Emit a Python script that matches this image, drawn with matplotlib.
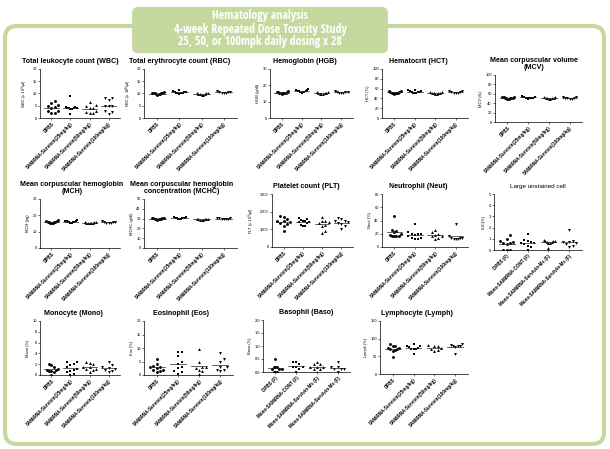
import numpy as np
import matplotlib
matplotlib.use("Agg")
import matplotlib.pyplot as plt
from matplotlib.patches import FancyBboxPatch
from matplotlib import font_manager

plt.rcParams['font.family'] = ['Liberation Sans', 'DejaVu Sans']

# group names
groups = ["DPBS", "SAMiRNA-Survivin(25mg/kg)", "SAMiRNA-Survivin(50mg/kg)",
          "SAMiRNA-Survivin(100mg/kg)"]
groups_f = ["DPBS (F)", "Mono-SAMiRNA-CONT (F)", "Mono-SAMiRNA-Survivin-Ms (F)",
            "Mono-SAMiRNA-Survivin-Ms (F)"]

# values (one list per group)
wbc = [[7, 6, 5.5, 5, 4.5, 4, 3, 3, 2, 2],
       [9, 4.5, 4.5, 4, 4, 4, 3.5, 3.5, 1.5, 4],
       [6.5, 5.5, 5, 4, 4, 3, 2.5, 2, 2],
       [8, 7.5, 8, 5, 5, 3, 2.5, 1.5, 5]]
rbc = [[9.5, 9.8, 10, 10.2, 10.5, 9.7, 10, 10.3, 9.6, 10.1],
       [10, 10.3, 10.5, 10.8, 11, 11.5, 10.2, 10.6, 9.8, 10.4],
       [9.5, 9.8, 10, 10.2, 9.6, 9.9, 10.1, 9.4],
       [10, 10.3, 10.6, 11, 10.5, 10.2, 10.8]]
hgb = [[14.5, 15, 15.5, 16, 16.3, 15.2, 15.8, 15.4, 16.1, 15],
       [15.5, 16, 16.5, 17, 17.8, 16.2, 15.8, 16.7, 16.4, 17.2],
       [14.5, 15, 15.3, 15.8, 14.8, 15.2, 16, 14.6],
       [15, 15.5, 16, 16.5, 15.8, 15.3, 16.2]]
hct = [[49, 50, 52, 54, 55, 51, 53, 52, 56, 50],
       [50, 52, 54, 56, 58, 53, 55, 51, 57, 54],
       [48, 50, 52, 54, 51, 49, 53, 50],
       [51, 53, 55, 52, 54, 56, 52]]
mcv = [[50, 51, 52, 53, 54, 52, 51, 53, 52, 50],
       [50, 51, 52, 53, 54, 52, 51, 53, 52, 55, 51],
       [50, 51, 52, 53, 52, 51, 54, 50],
       [49, 51, 52, 53, 50, 52, 54]]
mch = [[15, 15.5, 16, 16.5, 17, 15.8, 16.2, 15.6, 16.4, 15.9],
       [15.2, 15.8, 16.2, 16.6, 17, 16, 15.6, 16.4, 16.8, 15.9],
       [15, 15.4, 15.8, 16, 15.6, 15.2, 16.2, 15.5],
       [15, 15.5, 16, 16.5, 15.8, 15.3, 16.2]]
mchc = [[29, 29.5, 30, 30.5, 31, 30.2, 29.8, 30.6, 29.6, 30.1],
        [29.5, 30, 30.5, 31, 31.5, 30.2, 30.8, 29.8, 30.6, 31.2],
        [28.5, 29, 29.5, 30, 29.2, 29.8, 28.8, 29.4],
        [29.5, 30, 30.5, 30.2, 29.8, 30.4, 30.1]]
plt_count = [[1700, 1750, 1600, 1500, 1450, 1400, 1300, 1350, 1200, 900],
             [1650, 1600, 1550, 1500, 1450, 1400, 1350, 1250, 1200, 1200, 1400],
             [1700, 1500, 1450, 1400, 1250, 1200, 900, 800, 1350],
             [1650, 1600, 1500, 1400, 1350, 1300, 1200, 1000, 1450]]
neut = [[47, 25, 24, 22, 20, 18, 17, 16, 16, 17],
        [35, 22, 20, 19, 18, 16, 14, 13, 12, 12, 20],
        [25, 22, 20, 18, 16, 14, 12, 17],
        [35, 16, 14, 13, 12, 12, 12, 14]]
luc = [[1.3, 1.0, 0.8, 0.7, 0.6, 0.6, 0.5, 0, 0, 0],
       [1.4, 0.9, 0.8, 0.7, 0.6, 0.5, 0.4, 0.3, 0.0, 0.6],
       [0.9, 0.8, 0.8, 0.7, 0.7, 0.6, 0.6, 0.2, 0.8],
       [1.8, 0.8, 0.7, 0.6, 0.5, 0.4, 0.3, 0.7]]
mono = [[2.0, 1.8, 1.5, 1.2, 1.0, 1.0, 0.8, 0.7, 0.5, 0.0],
        [2.5, 2.4, 2.0, 1.8, 1.5, 1.2, 1.0, 0.8, 0.5, 0.0, 0.2],
        [2.5, 2.3, 2.0, 1.5, 1.4, 1.2, 1.0, 0.5, 1.2],
        [2.5, 1.8, 1.5, 1.3, 1.2, 1.0, 0.8, 0.5]]
eos = [[6, 4, 3.5, 3, 3, 2.5, 2, 2, 1.5, 1],
       [8.5, 8.5, 7, 5, 3, 2.5, 1.5, 1, 0.5, 4],
       [9.5, 5, 3, 2.5, 2, 1.5, 0.5, 3],
       [8, 6, 5, 3, 3, 2, 1.5, 2]]
baso = [[0.5, 0.2, 0.2, 0.1, 0.1, 0, 0, 0, 0.2, 0.1],
        [0.4, 0.4, 0.3, 0.2, 0.2, 0.1, 0, 0.2],
        [0.4, 0.3, 0.3, 0.2, 0.2, 0.1, 0.1, 0.0, 0.2],
        [0.4, 0.2, 0.2, 0.1, 0.1, 0, 0.1]]
lymph = [[85, 80, 78, 75, 72, 70, 68, 65, 48, 75],
         [85, 80, 78, 75, 72, 70, 70, 58, 76],
         [82, 80, 78, 75, 72, 68, 65],
         [85, 82, 80, 78, 78, 76, 58]]

W, H = 610, 449
fig = plt.figure(figsize=(W / 100, H / 100), dpi=100)

# pick a narrow font for the header if one is installed
names = {f.name for f in font_manager.fontManager.ttflist}
head_font = 'Liberation Sans'
for cand in ['Liberation Sans Narrow', 'DejaVu Sans Condensed', 'Open Sans Condensed',
             'Roboto Condensed']:
    if cand in names:
        head_font = cand
        break

# background frame and header box, drawn in pixel coordinates
bg = fig.add_axes([0, 0, 1, 1])
bg.set_xlim(0, W)
bg.set_ylim(H, 0)
bg.axis('off')
green = '#c5d99f'
bg.add_patch(FancyBboxPatch((5, 26), 599, 418, boxstyle="round,pad=0,rounding_size=12",
                            fc='white', ec=green, lw=3))
bg.add_patch(FancyBboxPatch((132, 7), 256, 46, boxstyle="round,pad=0,rounding_size=6",
                            fc=green, ec='none'))
head_size = 8.6 if head_font != 'Liberation Sans' else 7.4
for yy, line in zip([16, 29, 42], ["Hematology analysis", "4-week Repeated Dose Toxicity Study",
                                   "25, 50, or 100mpk daily dosing x 28"]):
    bg.text(260, yy, line, ha='center', va='center', color='white', fontsize=head_size,
            fontweight='bold', family=head_font)


def swarm(vals, ymax, ax_h, step, cap):
    # simple beeswarm: pixel offsets so markers don't overlap, squeezed into +-cap
    order = np.argsort(vals)
    placed = []
    offs = np.zeros(len(vals))
    for i in order:
        y = vals[i] / ymax * ax_h
        k = 0
        while True:
            cand = 0 if k == 0 else ((k + 1) // 2) * step * (1 if k % 2 else -1)
            if all((cand - px) ** 2 + (y - py) ** 2 >= step ** 2 for px, py in placed):
                break
            k += 1
        placed.append((cand, y))
        offs[i] = cand
    m = np.abs(offs).max()
    if m > cap:
        offs = offs * cap / m
    return offs


markers = ['o', 's', '^', 'v']


def panel(rect, data, title, ylabel, ymax, yticks, cats, title_x=0.42, bold=True):
    l, t, r, b = rect
    ax = fig.add_axes([l / W, 1 - b / H, (r - l) / W, (b - t) / H])
    xl = (-0.6, 3.6)
    upp = (xl[1] - xl[0]) / (r - l)
    for i, vals in enumerate(data):
        vals = np.array(vals, float)
        offs = swarm(vals, ymax, b - t, 3.8, 6.5) * upp
        ax.plot(i + offs, vals, ls='none', marker=markers[i], ms=2.1, color='black', mew=0)
        m = vals.mean()
        ax.plot([i - 0.38, i + 0.38], [m, m], color='#222222', lw=0.5)
    ax.set_xlim(*xl)
    ax.set_ylim(0, ymax)
    ax.set_yticks(yticks)
    ax.set_xticks(range(4))
    ax.set_xticklabels(cats, rotation=45, ha='right', rotation_mode='anchor',
                       fontsize=3.3, fontweight='bold')
    ax.tick_params(axis='y', labelsize=2.9, length=1.5, width=0.4, pad=0.8)
    ax.tick_params(axis='x', length=1.5, width=0.4, pad=1)
    for s in ['top', 'right']:
        ax.spines[s].set_visible(False)
    for s in ['left', 'bottom']:
        ax.spines[s].set_linewidth(0.5)
    ax.set_ylabel(ylabel, fontsize=2.9, labelpad=2)
    ax.set_title(title, fontsize=5.1 if bold else 4.5, fontweight='bold' if bold else 'normal',
                 x=title_x, pad=4, linespacing=1.1)
    ax.patch.set_alpha(0)
    return ax


panel((40, 69, 120, 118), wbc, "Total leukocyte count (WBC)", "WBC (x 10$^3$/μl)", 20, [0, 5, 10, 15, 20], groups, title_x=0.38)
panel((144, 69, 237, 118), rbc, "Total erythrocyte count (RBC)", "RBC (x 10$^6$/μl)", 20, [0, 5, 10, 15, 20], groups, title_x=0.38)
panel((270, 69, 353, 118), hgb, "Hemoglobin (HGB)", "HGB (g/dl)", 30, [0, 10, 20, 30], groups)
panel((382, 69, 468, 118), hct, "Hematocrit (HCT)", "HCT (%)", 100, [0, 20, 40, 60, 80, 100], groups)
panel((495, 75, 582, 122), mcv, "Mean corpuscular volume\n(MCV)", "MCV (fL)", 100, [0, 20, 40, 60, 80, 100], groups, title_x=0.45)

panel((40, 199, 120, 248), mch, "Mean corpuscular hemoglobin\n(MCH)", "MCH (pg)", 30, [0, 10, 20, 30], groups, title_x=0.4)
panel((144, 199, 237, 248), mchc, "Mean corpuscular hemoglobin\nconcentration (MCHC)", "MCHC (g/dl)", 50, [0, 10, 20, 30, 40, 50], groups, title_x=0.4)
panel((272, 194, 353, 247), plt_count, "Platelet count (PLT)", "PLT (x 10$^3$/μl)", 3000, [0, 1000, 2000, 3000], groups)
panel((382, 194, 468, 247), neut, "Neutrophil (Neut)", "Neut (%)", 80, [0, 20, 40, 60, 80], groups)
panel((494, 194, 582, 250), luc, "Large unstained cell", "LUC(%)", 5, [0, 1, 2, 3, 4, 5], groups_f, title_x=0.5, bold=False)

panel((40, 321, 120, 375), mono, "Monocyte (Mono)", "Mono (%)", 10, [0, 2, 4, 6, 8, 10], groups)
panel((144, 321, 233, 375), eos, "Eosinophil (Eos)", "Eos (%)", 20, [0, 5, 10, 15, 20], groups)
panel((263, 320, 350, 372), baso, "Basophil (Baso)", "Baso (%)", 2.0, [0.0, 0.5, 1.0, 1.5, 2.0], groups_f, title_x=0.5)
panel((380, 321, 468, 374), lymph, "Lymphocyte (Lymph)", "Lymph (%)", 150, [0, 50, 100, 150], groups)

fig.savefig("out.png", dpi=100)
